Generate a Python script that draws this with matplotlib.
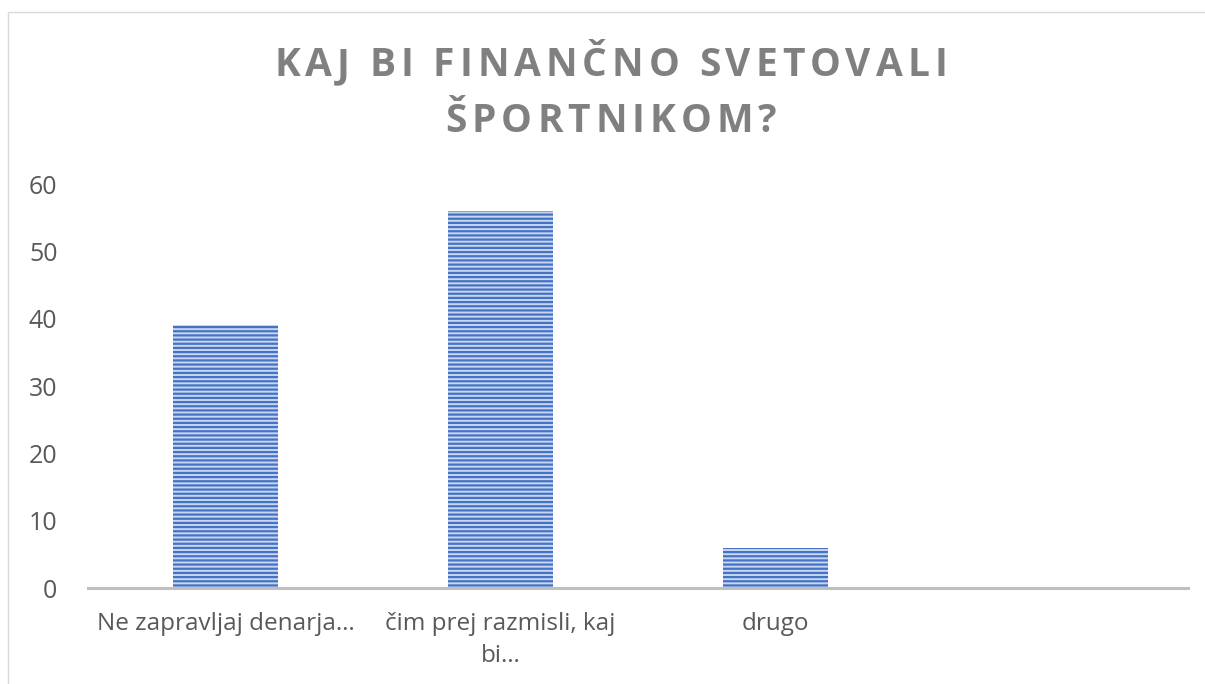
import matplotlib.pyplot as plt
from matplotlib.patches import Rectangle
from matplotlib.font_manager import FontProperties

categories = ["Ne zapravljaj denarja…", "čim prej razmisli, kaj\nbi…", "drugo"]
values = [39, 56, 6]
yticks = [0, 10, 20, 30, 40, 50, 60]
title_lines = ["KAJ BI FINANČNO SVETOVALI", "ŠPORTNIKOM?"]

plt.rcParams['font.family'] = ['Open Sans', 'DejaVu Sans']
plt.rcParams['hatch.linewidth'] = 1.6

W, H = 1205, 684
fig = plt.figure(figsize=(W / 100, H / 100), dpi=100)
ax = fig.add_axes([88 / W, 1 - 588 / H, 1100 / W, (588 - 184) / H])

x = list(range(len(categories)))
ax.bar(x, values, width=0.38, color='#c9d7f0', edgecolor='#4472C4',
       linewidth=0, hatch='----')

ax.set_xlim(-0.5, 3.5)
ax.set_ylim(0, 60)
ax.set_yticks(yticks)
ax.set_xticks(x)
ax.set_xticklabels(categories, fontsize=17.5, color='#595959', linespacing=1.45)
ax.tick_params(axis='y', labelsize=18, labelcolor='#595959', length=0, pad=22)
ax.tick_params(axis='x', length=0, pad=17)

for s in ['top', 'right', 'left']:
    ax.spines[s].set_visible(False)
ax.spines['bottom'].set_color('#bfbfbf')
ax.spines['bottom'].set_linewidth(2.2)

# title with letter spacing, laid out char by char
renderer = fig.canvas.get_renderer()
prop = FontProperties(family=['Open Sans', 'DejaVu Sans'], weight='bold', size=28)
spacing = 5.0  # px between letters
centers_y = [66, 122]
for line, cy in zip(title_lines, centers_y):
    widths = [renderer.get_text_width_height_descent(c, prop, ismath=False)[0] for c in line]
    widths = [w if c != ' ' else prop.get_size_in_points() * 100 / 72 * 0.24 for c, w in zip(line, widths)]
    total = sum(widths) + spacing * (len(line) - 1)
    px = 611 - total / 2
    for c, w in zip(line, widths):
        fig.text(px / W, 1 - cy / H, c, ha='left', va='center',
                 fontproperties=prop, color='#808080')
        px += w + spacing

# chart frame
fig.patches.append(Rectangle((8 / W, -0.1), 1.1, 1.1 - 12 / H,
                             transform=fig.transFigure, fill=False,
                             edgecolor='#d9d9d9', linewidth=1))

fig.savefig('out.png', dpi=100)
